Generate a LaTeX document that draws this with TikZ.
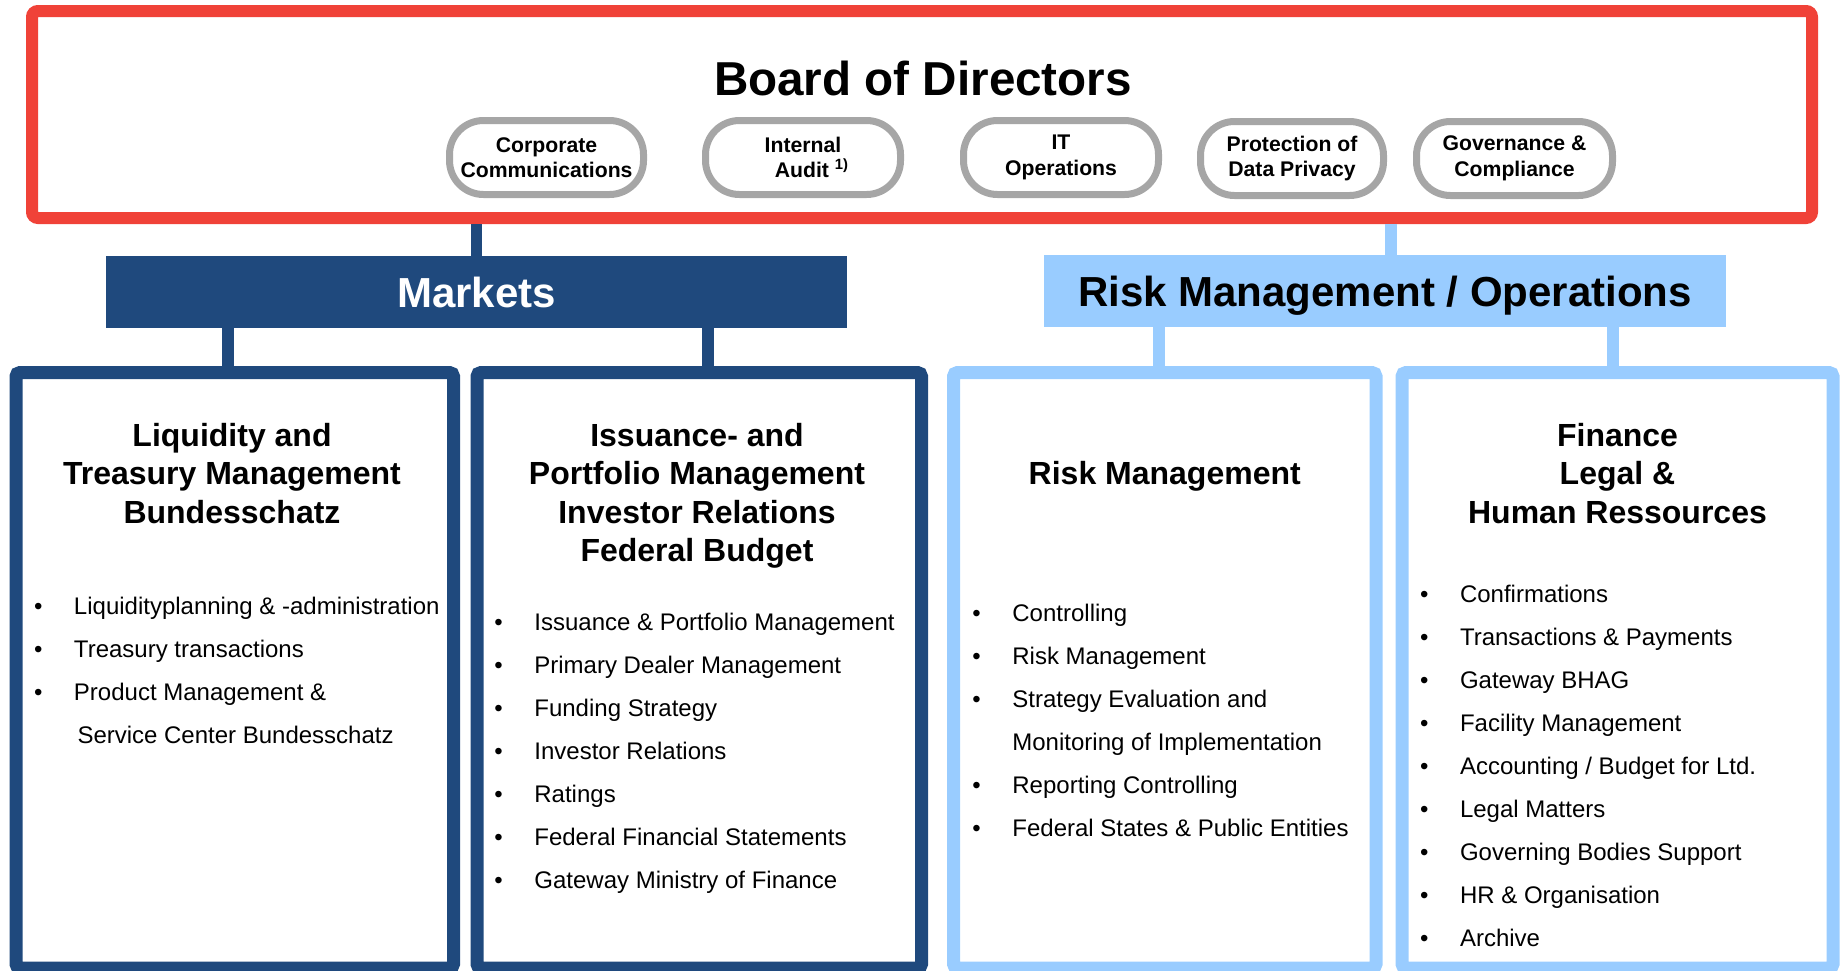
\documentclass[tikz,border=0pt]{standalone}
\usepackage{fontspec}
\setmainfont{Liberation Sans}
\usepackage{xcolor}
\usepackage{tikz}

\definecolor{boardred}{RGB}{240,66,56}
\definecolor{navy}{RGB}{31,73,125}
\definecolor{sky}{RGB}{153,204,255}
\definecolor{pillgray}{RGB}{166,166,166}
\newcommand{\bul}{\makebox[20pt][l]{\textbullet}}

\begin{document}
\begin{tikzpicture}[x=0.5pt,y=-0.5pt,
                    pill/.style={draw=pillgray,line width=3.5pt,fill=white,
                    rounded corners=17pt,
                    minimum width=#1,minimum height=37pt,
                    align=center,inner sep=0pt,
                    font=\bfseries\fontsize{10.6}{12.8}\selectfont},
                    head/.style n args={3}{fill=#1,text=#2,
                    minimum width=#3,minimum height=36pt,
                    text height=15pt,text depth=0pt,
                    font=\bfseries\fontsize{21}{25}\selectfont},
                    unit/.style n args={2}{draw=#1,line width=6.5pt,
                    rounded corners=2pt,
                    minimum width=#2,minimum height=297.75pt},
                    link/.style={draw=#1,line width=5.75pt},
                    title/.style={anchor=base,inner sep=0pt,
                    font=\bfseries\fontsize{16}{19.25}\selectfont},
                    items/.style={anchor=base west,inner sep=0pt,
                    font=\fontsize{12}{21.5}\selectfont}]
    \useasboundingbox (0,0) rectangle (1841,970);

    % board
    \node[draw=boardred,line width=6pt,rounded corners=3pt,
          minimum width=890pt,minimum height=103.5pt] (board) at (922,114.5) {};
    \node[anchor=base,inner sep=0pt,font=\bfseries\fontsize{23.8}{28}\selectfont]
          (boardtitle) at (923,95) {Board of Directors};
    \node[pill=97pt](comm) at (546.5,157.5) {Corporate\\Communications};
    \node[pill=97.5pt](audit) at (803,157.5) {Internal\\\hspace*{9pt}Audit \textsuperscript{1)}};
    \node[pill=97.5pt](itops) at (1061,157.5) {IT\\Operations};
    \node[pill=91.5pt](privacy) at (1292,158.5) {Protection of\\Data Privacy};
    \node[pill=98pt](gov) at (1514.5,158.5) {Governance \&\\Compliance};

    % divisions
    \node[head={navy}{white}{370.5pt}](markets) at (476.5,292) {Markets};
    \node[head={sky}{black}{341pt}](riskops) at (1385,291) {Risk Management / Operations};

    \node[unit={navy}{218.75pt}](liq) at (234.75,670.25) {};
    \node[unit={navy}{222.25pt}](iss) at (699.25,670.25) {};
    \node[unit={sky}{211.25pt}](risk) at (1164.75,670.25) {};
    \node[unit={sky}{215.5pt}](fin) at (1617.5,670.25) {};

    \draw[link=navy] (markets.north) -- (markets.north |- board.south);
    \draw[link=sky] ([xshift=3pt]riskops.north) -- ([xshift=3pt]riskops.north |- board.south);
    \draw[link=navy] ([xshift=-3.4pt]liq.north) -- ([xshift=-3.4pt]liq.north |- markets.south);
    \draw[link=navy] ([xshift=4.4pt]iss.north) -- ([xshift=4.4pt]iss.north |- markets.south);
    \draw[link=sky] ([xshift=-2.9pt]risk.north) -- ([xshift=-2.9pt]risk.north |- riskops.south);
    \draw[link=sky] ([xshift=-2.25pt]fin.north) -- ([xshift=-2.25pt]fin.north |- riskops.south);

    % unit titles
    \node[title](liqtitle) at (232,446) {\begin{tabular}[t]{@{}c@{}}Liquidity and\\Treasury Management\\Bundesschatz\end{tabular}};
    \node[title](isstitle) at (697,446) {\begin{tabular}[t]{@{}c@{}}Issuance- and\\Portfolio Management\\Investor Relations\\Federal Budget\end{tabular}};
    \node[title](risktitle) at (1164.75,484.5) {Risk Management};
    \node[title](fintitle) at (1617.5,446) {\begin{tabular}[t]{@{}c@{}}Finance\\Legal \&\\Human Ressources\end{tabular}};

    % unit tasks
    \node[items](liqlist) at (33.6,614) {\begin{tabular}[t]{@{}l@{}}
        \bul Liquidityplanning \& -administration\\
        \bul Treasury transactions\\
        \bul Product Management \&\\
        \hspace*{21.75pt}Service Center Bundesschatz\end{tabular}};
    \node[items](isslist) at (494,630) {\begin{tabular}[t]{@{}l@{}}
        \bul Issuance \& Portfolio Management\\
        \bul Primary Dealer Management\\
        \bul Funding Strategy\\
        \bul Investor Relations\\
        \bul Ratings\\
        \bul Federal Financial Statements\\
        \bul Gateway Ministry of Finance\end{tabular}};
    \node[items](risklist) at (972,621) {\begin{tabular}[t]{@{}l@{}}
        \bul Controlling\\
        \bul Risk Management\\
        \bul Strategy Evaluation and\\
        \hspace*{20pt}Monitoring of Implementation\\
        \bul Reporting Controlling\\
        \bul Federal States \& Public Entities\end{tabular}};
    \node[items](finlist) at (1419.6,602) {\begin{tabular}[t]{@{}l@{}}
        \bul Confirmations\\
        \bul Transactions \& Payments\\
        \bul Gateway BHAG\\
        \bul Facility Management\\
        \bul Accounting / Budget for Ltd.\\
        \bul Legal Matters\\
        \bul Governing Bodies Support\\
        \bul HR \& Organisation\\
        \bul Archive\end{tabular}};
\end{tikzpicture}
\end{document}
